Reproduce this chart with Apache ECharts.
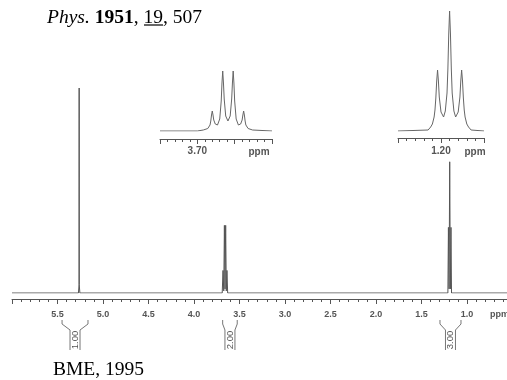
<!DOCTYPE html>
<html>
<head>
<meta charset="utf-8">
<script src="https://cdn.jsdelivr.net/npm/echarts@6/dist/echarts.min.js"></script>
<style>
html, body { margin: 0; padding: 0; background: #fff; }
#chart { width: 507px; height: 380px; }
</style>
</head>
<body>
<div id="chart"></div>
<script>
// full spectrum, [ppm, relative intensity] (singlet = 100)
const mainTrace = [
  [6.0, 0], [5.27, 0], [5.263, 4], [5.262, 100], [5.261, 4], [5.254, 0],
  [3.69, 0], [3.681, 11], [3.673, 1], [3.666, 33], [3.659, 2], [3.652, 33], [3.645, 1], [3.638, 11], [3.63, 0],
  [1.21, 0], [1.204, 32], [1.197, 2], [1.19, 64], [1.183, 2], [1.176, 32], [1.17, 0], [0.5, 0]
];

// CH2 quartet expansion
const quartetTrace = [
  [3.75, 0], [3.70, 0], [3.692, 1], [3.686, 2.5], [3.683, 6], [3.682, 10], [3.681, 16], [3.680, 20],
  [3.679, 16], [3.678, 11], [3.676, 7], [3.673, 6], [3.670, 12], [3.668, 30], [3.667, 48], [3.666, 60],
  [3.665, 48], [3.664, 32], [3.662, 15], [3.659, 10], [3.656, 15], [3.654, 32], [3.653, 48], [3.652, 60],
  [3.651, 48], [3.650, 30], [3.648, 12], [3.645, 6], [3.642, 7], [3.640, 11], [3.639, 16], [3.638, 20],
  [3.637, 16], [3.636, 10], [3.635, 6], [3.632, 2.5], [3.626, 1], [3.60, 0]
];

// CH3 triplet expansion
const tripletTrace = [
  [1.25, 0], [1.215, 1], [1.212, 4], [1.210, 7], [1.208, 14], [1.207, 21], [1.206, 33], [1.205, 50],
  [1.204, 61], [1.203, 50], [1.202, 34], [1.200, 19], [1.197, 14], [1.195, 20], [1.193, 38], [1.192, 62],
  [1.191, 97], [1.190, 120], [1.189, 97], [1.188, 62], [1.187, 38], [1.185, 20], [1.183, 14], [1.180, 19],
  [1.178, 34], [1.177, 50], [1.176, 61], [1.175, 50], [1.174, 33], [1.173, 21], [1.172, 14], [1.170, 7],
  [1.168, 4], [1.165, 1], [1.15, 0]
];

// integral regions [from ppm, to ppm] and their values
const integralRanges = [[5.45, 5.165], [3.685, 3.525], [1.297, 1.066]];
const integralLabels = ['1.00', '2.00', '3.00'];

const mainHidden = [0.5, 6.0];
const quartetLabel = 3.70;
const tripletLabel = 1.20;

const grey = '#555';
const tickFont = { color: grey, fontFamily: 'Liberation Sans, Arial, sans-serif', fontWeight: 'bold' };

const chart = echarts.init(document.getElementById('chart'), null, { renderer: 'canvas' });

function ppmAxis(gridIndex, min, max, interval, offset, formatter, fontSize, margin) {
  return {
    type: 'value',
    gridIndex: gridIndex,
    inverse: true,
    min: min,
    max: max,
    interval: interval,
    offset: offset,
    axisLine: { show: true, onZero: false, lineStyle: { color: grey, width: 1 } },
    axisTick: { show: true, inside: false, length: 5, lineStyle: { color: grey } },
    minorTick: { show: true, splitNumber: 5, length: 3, lineStyle: { color: grey } },
    splitLine: { show: false },
    axisLabel: Object.assign({ fontSize: fontSize, margin: margin, formatter: formatter }, tickFont)
  };
}

function hiddenY(gridIndex, max) {
  return { type: 'value', gridIndex: gridIndex, min: 0, max: max, show: false, splitLine: { show: false } };
}

const option = {
  animation: false,
  backgroundColor: '#fff',
  grid: [
    { left: 12, width: 500.5, top: 88, bottom: 87, outerBoundsMode: 'none', containLabel: false },
    { left: 160, width: 112, top: 71, height: 60, outerBoundsMode: 'none' },
    { left: 398, width: 86, top: 11, height: 120, outerBoundsMode: 'none' }
  ],
  xAxis: [
    ppmAxis(0, 0.5, 6.0, 0.5, 6, v => mainHidden.some(h => Math.abs(h - v) < 1e-6) ? '' : v.toFixed(1), 9, 11),
    ppmAxis(1, 3.60, 3.75, 0.05, 8, v => Math.abs(v - quartetLabel) < 1e-6 ? v.toFixed(2) : '', 10, 7),
    ppmAxis(2, 1.15, 1.25, 0.05, 7, v => Math.abs(v - tripletLabel) < 1e-6 ? v.toFixed(2) : '', 10, 8)
  ],
  yAxis: [hiddenY(0, 100), hiddenY(1, 60), hiddenY(2, 120)],
  series: [
    {
      type: 'line', xAxisIndex: 0, yAxisIndex: 0, data: mainTrace,
      showSymbol: false, lineStyle: { color: '#555', width: 1 }, silent: true
    },
    {
      type: 'line', xAxisIndex: 1, yAxisIndex: 1, data: quartetTrace,
      showSymbol: false, lineStyle: { color: '#666', width: 1 }, silent: true
    },
    {
      type: 'line', xAxisIndex: 2, yAxisIndex: 2, data: tripletTrace,
      showSymbol: false, lineStyle: { color: '#666', width: 1 }, silent: true
    },
    {
      type: 'custom', xAxisIndex: 0, yAxisIndex: 0, clip: false, silent: true,
      data: integralRanges,
      encode: { x: [0, 1] },
      renderItem: (params, api) => {
        const a = api.coord([api.value(0), 0]);
        const b = api.coord([api.value(1), 0]);
        const xl = Math.min(a[0], b[0]);
        const xr = Math.max(a[0], b[0]);
        const xm = (xl + xr) / 2;
        const top = a[1] + 27, kink = top + 4, inner = top + 10, bottom = top + 30;
        const line = { stroke: '#777', fill: null, lineWidth: 1 };
        return {
          type: 'group',
          children: [
            { type: 'polyline', shape: { points: [[xl, top], [xl, kink], [xm - 5, inner], [xm - 5, bottom]] }, style: line },
            { type: 'polyline', shape: { points: [[xr, top], [xr, kink], [xm + 5, inner], [xm + 5, bottom]] }, style: line },
            {
              type: 'text', x: xm, y: inner + 10, rotation: Math.PI / 2,
              style: {
                text: integralLabels[params.dataIndex], align: 'center', verticalAlign: 'middle',
                font: '9.5px "Liberation Sans", Arial, sans-serif', fill: grey
              }
            }
          ]
        };
      }
    }
  ],
  graphic: [
    {
      type: 'text', left: 47, top: 8,
      style: {
        text: '{i|Phys.} {b|1951}, 19, 507',
        font: '19.5px "Liberation Serif", "Times New Roman", serif',
        fill: '#000',
        rich: {
          i: { fontStyle: 'italic', fontSize: 19.5, fontFamily: 'Liberation Serif' },
          b: { fontWeight: 'bold', fontSize: 19.5, fontFamily: 'Liberation Serif' }
        }
      }
    },
    { type: 'line', shape: { x1: 144, y1: 25, x2: 163, y2: 25 }, style: { stroke: '#000', lineWidth: 1.2 } },
    {
      type: 'text', left: 53, top: 360,
      style: { text: 'BME, 1995', font: '19.5px "Liberation Serif", "Times New Roman", serif', fill: '#000' }
    },
    {
      type: 'text', x: 490, y: 315,
      style: { text: 'ppm', font: 'bold 9px "Liberation Sans", Arial, sans-serif', fill: grey, verticalAlign: 'middle' }
    },
    {
      type: 'text', x: 259, y: 152,
      style: { text: 'ppm', font: 'bold 10px "Liberation Sans", Arial, sans-serif', fill: grey, align: 'center', verticalAlign: 'middle' }
    },
    {
      type: 'text', x: 475, y: 152,
      style: { text: 'ppm', font: 'bold 10px "Liberation Sans", Arial, sans-serif', fill: grey, align: 'center', verticalAlign: 'middle' }
    }
  ]
};

chart.setOption(option);
</script>
</body>
</html>
